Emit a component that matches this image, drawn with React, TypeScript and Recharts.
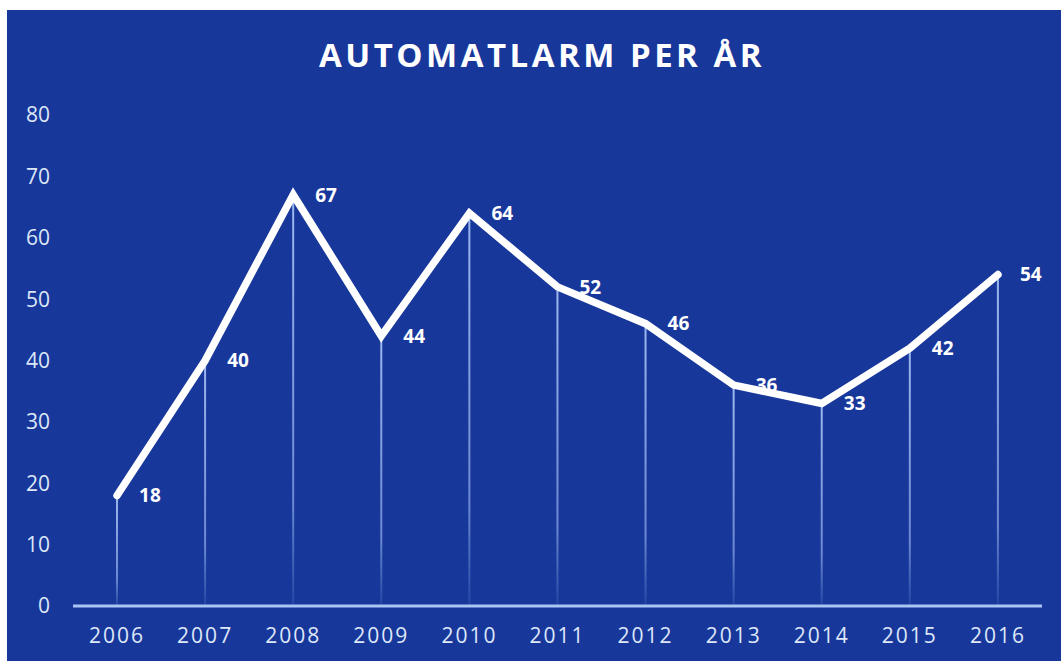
import React from 'react';
import { ComposedChart, Line, Bar, XAxis, YAxis, LabelList } from 'recharts';

const years = ['2006', '2007', '2008', '2009', '2010', '2011', '2012', '2013', '2014', '2015', '2016'];
const alarms = [18, 40, 67, 44, 64, 52, 46, 36, 33, 42, 54];
const yTicks = [0, 10, 20, 30, 40, 50, 60, 70, 80];

const data = years.map((year, i) => ({ year, value: alarms[i] }));

const FONT = '"Open Sans", "DejaVu Sans", sans-serif';

export default function App() {
  return (
    <div
      style={{
        position: 'absolute',
        left: 7,
        top: 10,
        width: 1054,
        height: 651,
        background: '#18379b',
        fontFamily: FONT,
        overflow: 'hidden',
      }}
    >
      <div
        style={{
          position: 'absolute',
          top: 28,
          left: 8,
          width: 1054,
          textAlign: 'center',
          color: '#ffffff',
          fontSize: 33,
          lineHeight: '33px',
          fontWeight: 700,
          letterSpacing: 3.5,
          whiteSpace: 'nowrap',
        }}
      >
        AUTOMATLARM PER ÅR
      </div>
      <ComposedChart
        width={1054}
        height={651}
        data={data}
        margin={{ top: 105, right: 19, bottom: 0, left: 0 }}
      >
        <defs>
          <linearGradient id="dropFade" x1="0" y1="0" x2="0" y2="1">
            <stop offset="0%" stopColor="#a3bff3" stopOpacity={0.95} />
            <stop offset="75%" stopColor="#a3bff3" stopOpacity={0.6} />
            <stop offset="100%" stopColor="#a3bff3" stopOpacity={0.1} />
          </linearGradient>
        </defs>
        <XAxis
          dataKey="year"
          height={55}
          axisLine={{ stroke: '#a9c6f4', strokeWidth: 3 }}
          tickLine={false}
          tickSize={6}
          tickMargin={16}
          tick={{ fill: '#dde7f8', fontSize: 21, letterSpacing: 2, fontFamily: FONT }}
          interval={0}
        />
        <YAxis
          width={66}
          domain={[0, 80]}
          ticks={yTicks}
          axisLine={false}
          tickLine={false}
          tickSize={0}
          tickMargin={23}
          tick={{ fill: '#dde7f8', fontSize: 21, fontFamily: FONT }}
        />
        <Bar dataKey="value" barSize={2} fill="url(#dropFade)" isAnimationActive={false} />
        <Line
          dataKey="value"
          type="linear"
          stroke="#ffffff"
          strokeWidth={7.5}
          strokeLinecap="round"
          strokeLinejoin="miter"
          dot={false}
          activeDot={false}
          isAnimationActive={false}
        >
          <LabelList
            dataKey="value"
            position="right"
            offset={22}
            fill="#ffffff"
            fontSize={19}
            fontWeight={700}
            fontFamily={FONT}
          />
        </Line>
      </ComposedChart>
    </div>
  );
}
